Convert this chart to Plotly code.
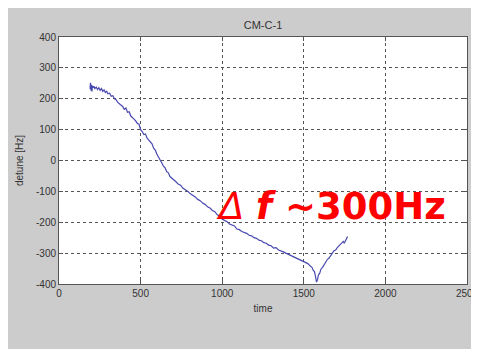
import plotly.graph_objects as go

time = [190, 193, 196, 199, 202, 205, 210, 215, 220, 228, 236, 244, 252, 260, 268, 276, 284, 292, 300,
        310, 320, 330, 340, 350, 360, 370, 380, 390, 400, 410, 420, 430, 440, 450, 460, 470, 480, 490,
        500, 510, 520, 530, 540, 550, 560, 570, 580, 590, 600, 610, 620, 630, 640, 650, 660, 670, 680,
        690, 700, 715, 730, 745, 760, 775, 790, 805, 820, 835, 850, 865, 880, 895, 910, 925, 940, 955,
        970, 985, 1000, 1015, 1030, 1045, 1060, 1075, 1090, 1105, 1120, 1135, 1150, 1165, 1180, 1195,
        1210, 1225, 1240, 1255, 1270, 1285, 1300, 1315, 1330, 1345, 1360, 1375, 1390, 1405, 1420, 1435,
        1450, 1465, 1480, 1495, 1510, 1525, 1540, 1550, 1558, 1565, 1572, 1578, 1584, 1590, 1597, 1605,
        1615, 1625, 1635, 1645, 1655, 1665, 1675, 1685, 1695, 1705, 1715, 1725, 1735, 1742, 1748, 1755,
        1762, 1768]
detune = [232, 252, 226, 245, 224, 242, 236, 240, 233, 238, 230, 236, 227, 233, 224, 229, 220, 224, 216,
          218, 208, 210, 200, 197, 188, 184, 178, 175, 166, 170, 156, 158, 144, 140, 134, 128, 120, 118,
          100, 94, 84, 86, 72, 66, 58, 54, 40, 34, 20, 12, 2, -8, -18, -24, -36, -40, -52, -56, -62,
          -68, -76, -80, -90, -94, -100, -108, -112, -118, -126, -130, -138, -142, -150, -154, -162, -166,
          -176, -180, -190, -194, -198, -206, -210, -212, -222, -224, -230, -232, -236, -242, -244, -250,
          -252, -258, -260, -266, -268, -274, -276, -284, -282, -290, -292, -296, -300, -304, -308, -312,
          -316, -318, -324, -326, -332, -334, -342, -346, -356, -360, -376, -394, -386, -370, -366, -352,
          -346, -336, -330, -320, -316, -306, -300, -292, -290, -282, -276, -272, -266, -262, -268, -258,
          -250, -246]

x_ticks = [0, 500, 1000, 1500, 2000, 2500]
y_ticks = [-400, -300, -200, -100, 0, 100, 200, 300, 400]

fig = go.Figure()
fig.add_trace(go.Scatter(x=time, y=detune, mode="lines",
                         line=dict(color="#4848b0", width=1.2), showlegend=False))

axis_common = dict(showline=True, linecolor="#555555", linewidth=1, mirror="ticks",
                   ticks="inside", ticklen=4, tickcolor="#555555", automargin=False,
                   showgrid=True, gridcolor="#555555", griddash="dot", gridwidth=1,
                   zeroline=False, tickfont=dict(family="Liberation Sans, Arial", size=10, color="#333333"))

fig.update_xaxes(range=[0, 2500], tickvals=x_ticks, ticktext=[str(v) for v in x_ticks],
                 title=dict(text="time", font=dict(family="Liberation Sans, Arial", size=10, color="#333333"), standoff=6),
                 **axis_common)
fig.update_yaxes(range=[-400, 400], tickvals=y_ticks, ticktext=[str(v) for v in y_ticks],
                 title=dict(text="detune [Hz]", font=dict(family="Liberation Sans, Arial", size=10, color="#333333"), standoff=10),
                 **axis_common)

fig.add_annotation(x=950, y=-150, xref="x", yref="y", xanchor="left", yanchor="middle",
                   text="<i>Δ</i> <b><i>f</i> ~300Hz</b>", showarrow=False,
                   font=dict(family="DejaVu Sans", size=37, color="#ff0000"))

W, H = 471, 341
fig.update_layout(
    width=W, height=H,
    margin=dict(l=51, r=W - 51 - 408, t=29, b=H - 29 - 247),
    paper_bgcolor="#cccccc", plot_bgcolor="#ffffff",
    title=dict(text="CM-C-1", x=(51 + 204) / W, xanchor="center", y=1 - 17 / H, yanchor="middle",
               font=dict(family="Liberation Sans, Arial", size=11, color="#333333")),
)

fig.write_html("out.html")
